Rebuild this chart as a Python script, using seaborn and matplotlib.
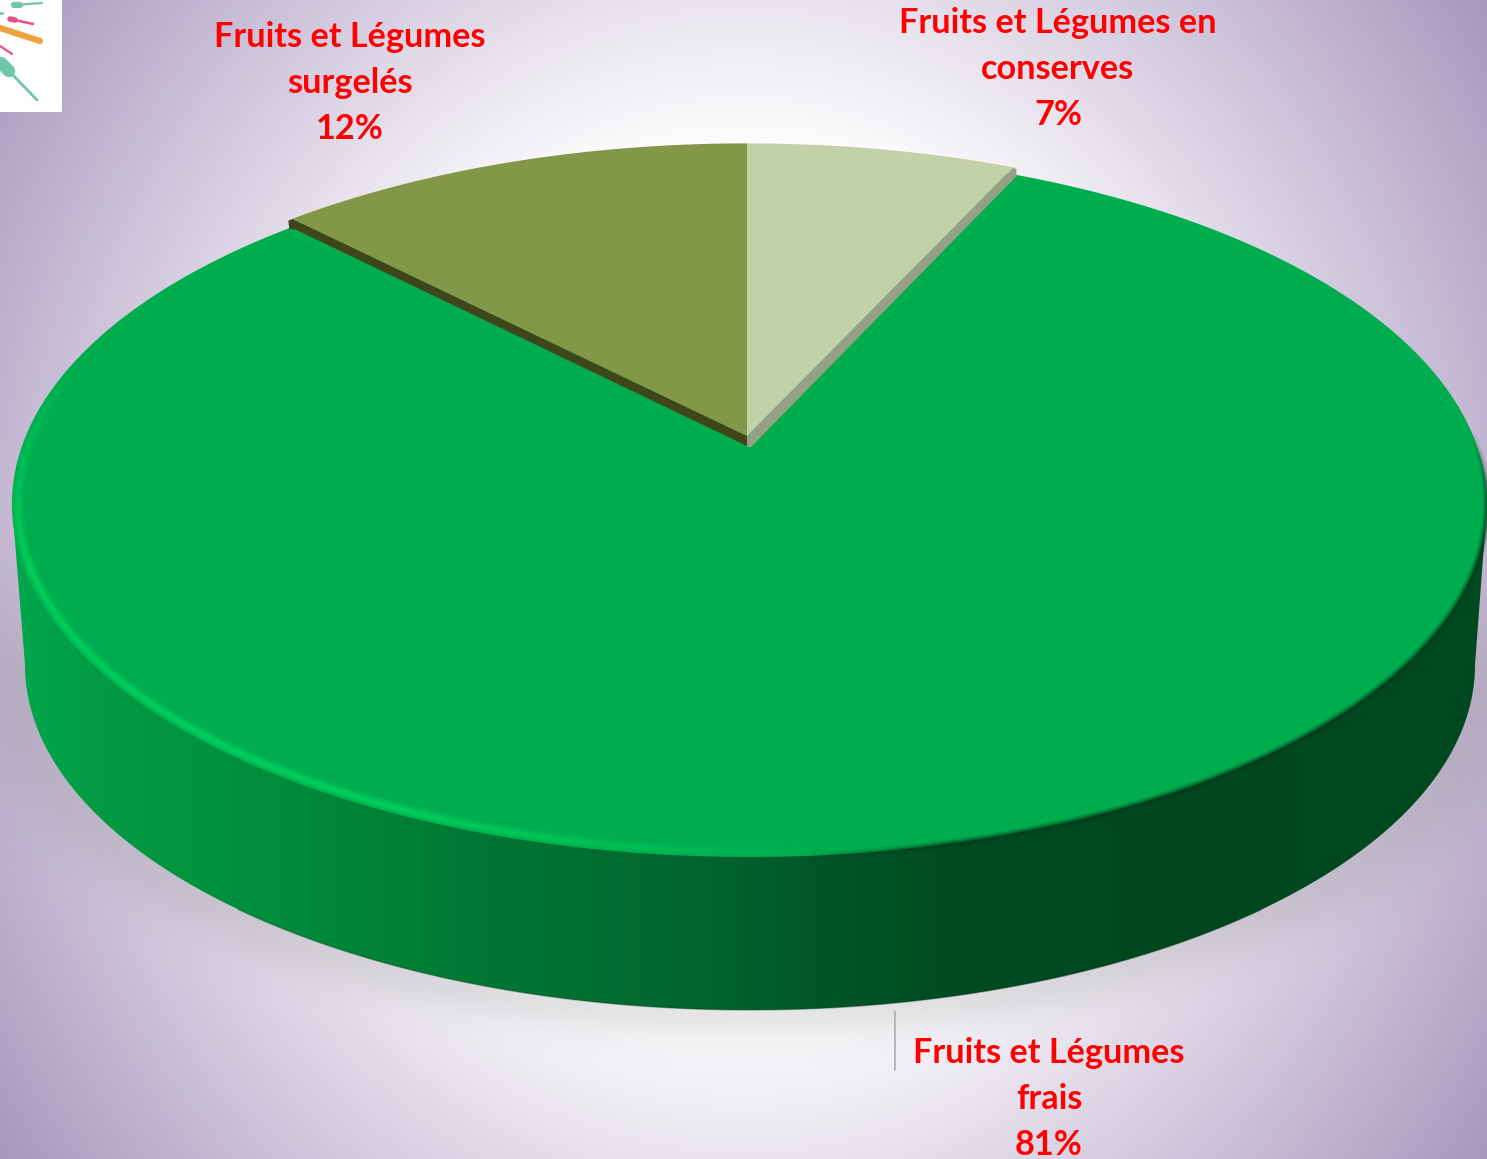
import numpy as np
import matplotlib
matplotlib.use("Agg")
import matplotlib.pyplot as plt
from matplotlib.patches import Polygon, Rectangle
from matplotlib.collections import LineCollection
from matplotlib.colors import to_rgba
import seaborn as sns

# ---- data -------------------------------------------------------------
categories = ["Fruits et Légumes en\nconserves", "Fruits et Légumes\nsurgelés", "Fruits et Légumes\nfrais"]
shares = [7.0, 12.45, 80.55]
percent_labels = ["7%", "12%", "81%"]
top_colors = ["#c3d1a9", "#829747", "#00ad4e"]
edge_colors = ["#96a184", "#3f4619"]
side_stops = ["#00a84c", "#049a42", "#008c3b", "#007734", "#00692f", "#00592a", "#004a22", "#004720", "#004a21"]

sns.set_theme(style="white")
plt.rcParams["font.family"] = ["Lato", "DejaVu Sans"]

W, H = 1487, 1159
fig = plt.figure(figsize=(W / 100, H / 100), dpi=100)
ax = fig.add_axes([0, 0, 1, 1])
ax.set_xlim(0, W)
ax.set_ylim(H, 0)
ax.axis("off")

# ---- background -------------------------------------------------------
xx, yy = np.meshgrid(np.arange(W) + .5, np.arange(H) + .5)
u2 = ((xx - 744) / 744) ** 2
v2 = ((yy - 580) / 580) ** 2
rho = np.sqrt((u2 + .49 * v2) / 1.49)
f = np.clip((rho - .42) / .58, 0, 1)
bg_cmap = sns.blend_palette(["#ffffff", "#a997bf"], as_cmap=True)
ax.imshow(f, cmap=bg_cmap, vmin=0, vmax=1, extent=(0, W, H, 0), aspect="auto", zorder=0)

# ---- geometry ---------------------------------------------------------
TOP = dict(cx=749.5, cy=504, rx=737.5, ry=353)
BOT = dict(cx=750, cy=665, rx=725, ry=345)

def ell(e, t, inset=0):
    return e["cx"] + (e["rx"] - inset) * np.cos(t), e["cy"] + (e["ry"] - inset) * np.sin(t)

# ---- shadow under the pie ----------------------------------------------
r = np.sqrt(((xx - BOT["cx"]) / BOT["rx"]) ** 2 + ((yy - BOT["cy"]) / BOT["ry"]) ** 2)
d = np.clip(r - 1, 0, None) * 345
shade = .17 * np.exp(-(d / 30) ** 2) * np.clip((yy - 520) / 150, 0, 1)
rgba = np.zeros((H, W, 4))
rgba[..., :3] = (.45, .45, .42)
rgba[..., 3] = shade
ax.imshow(rgba, extent=(0, W, H, 0), aspect="auto", zorder=1)
ax.set_xlim(0, W)
ax.set_ylim(H, 0)

# ---- side wall ---------------------------------------------------------
tb = np.linspace(0, np.pi, 400)
bx, by = ell(BOT, tb)
sil = np.column_stack([np.r_[TOP["cx"] + TOP["rx"], bx, TOP["cx"] - TOP["rx"]],
                       np.r_[TOP["cy"], by, TOP["cy"]]])
side_cmap = sns.blend_palette(side_stops, as_cmap=True)
stops_x = np.array([12, 100, 280, 480, 650, 800, 960, 1200, 1487])
pos = np.interp(np.arange(W) + .5, stops_x, np.linspace(0, 1, len(stops_x)))
im = ax.imshow(pos[None, :], cmap=side_cmap, vmin=0, vmax=1, extent=(0, W, H, 0), aspect="auto", zorder=2)
patch = Polygon(sil, closed=True, transform=ax.transData, fc="none", ec="none")
ax.add_patch(patch)
im.set_clip_path(patch)
ax.plot(bx[100:300], by[100:300], color="#00301a", lw=1.0, alpha=.35, zorder=2.5)

# ---- main top face -----------------------------------------------------
t = np.linspace(0, 2 * np.pi, 800)
tx, ty = ell(TOP, t)
ax.fill(tx, ty, color=top_colors[2], lw=0, zorder=3)

# soft rim: bright on the lower left, dark on the lower right
def rim(t0, t1, color, lw, alpha, inset, fade):
    a = np.radians(np.linspace(t0, t1, 400))
    x, y = ell(TOP, a, inset)
    pts = np.column_stack([x, y])
    segs = np.stack([pts[:-1], pts[1:]], axis=1)
    s = np.linspace(0, 1, len(segs))
    w = np.clip(np.minimum(s, 1 - s) / fade, 0, 1) * alpha
    cols = [to_rgba(color, v) for v in w]
    ax.add_collection(LineCollection(segs, colors=cols, linewidths=lw, capstyle="butt", zorder=4))

for lw, al in [(9, .15), (6.5, .2), (4.5, .25), (2.5, .3)]:
    rim(82, 205, "#00e064", lw, al, 6, .3)
for lw, al in [(6, .2), (3.5, .3), (1.5, .45)]:
    rim(-12, 86, "#003a1a", lw, al, 0, .12)

# ---- small slices, angles from the values ------------------------------
total = sum(shares)
K, A, B, X0, Y0 = .179, 727, 345, 747, 436

def project(deg):
    a = np.radians(deg)
    px, py = np.sin(a), np.cos(a)
    den = 1 + K * py
    return X0 + A * px / den, Y0 - B * py / den

a_light = shares[0] / total * 360
a_olive = -shares[1] / total * 360
arc_l = np.linspace(0, a_light, 60)
arc_o = np.linspace(a_olive, 0, 80)

lx, ly = project(arc_l)
ox, oy = project(arc_o)

# slice thickness bands
cl = (lx[-1], ly[-1])
ax.add_patch(Polygon([(X0, Y0), cl, (cl[0] + 3, cl[1] + 2), (cl[0] + 3, cl[1] + 9), (X0 + 4, Y0 + 11), (X0, Y0 + 11)],
                     closed=True, fc=edge_colors[0], ec="none", zorder=5))
co = (ox[0], oy[0])
ax.add_patch(Polygon([(X0, Y0), co, (co[0] - 4, co[1] + 2), (co[0] - 3, co[1] + 10), (co[0] + 4, co[1] + 11), (X0, Y0 + 10)],
                     closed=True, fc=edge_colors[1], ec="none", zorder=5))
ax.fill(np.r_[X0, lx], np.r_[Y0, ly], color=top_colors[0], lw=0, zorder=6)
ax.fill(np.r_[X0, ox], np.r_[Y0, oy], color=top_colors[1], lw=0, zorder=6)

# ---- labels ------------------------------------------------------------
label_pos = [(1058, 69), (350, 83), (1049, 1099)]
for cat, pct, (x, y) in zip(categories, percent_labels, label_pos):
    ax.text(x, y, f"{cat}\n{pct}", color="#ff0000", fontsize=24.7, fontweight="bold",
            ha="center", va="center", linespacing=1.53, zorder=8)
ax.plot([895, 895], [1011, 1070], color="#b4b2b6", lw=1.3, zorder=7)

# ---- small logo corner -------------------------------------------------
ax.add_patch(Rectangle((0, 0), 62, 112, fc="white", ec="none", zorder=8))
for (xs, ys, c, w) in [
    ([14, 42], [5, 3], "#6fc7ab", 1.6),
    ([14, 20], [5, 5], "#6fc7ab", 4.5),
    ([0, 2], [13, 13], "#6fc7ab", 2),
    ([10, 33], [19, 24], "#e8507f", 1.8),
    ([10, 15], [19, 20], "#e8507f", 4),
    ([0, 40], [28, 41], "#f0a33a", 4.5),
    ([0, 12], [46, 54], "#e8507f", 1.6),
    ([10, 37], [72, 100], "#6fc7ab", 2),
    ([1, 9], [63, 71], "#6fc7ab", 9),
]:
    ax.plot(xs, ys, color=c, lw=w, solid_capstyle="round", zorder=9)

fig.savefig("out.png", dpi=100)
